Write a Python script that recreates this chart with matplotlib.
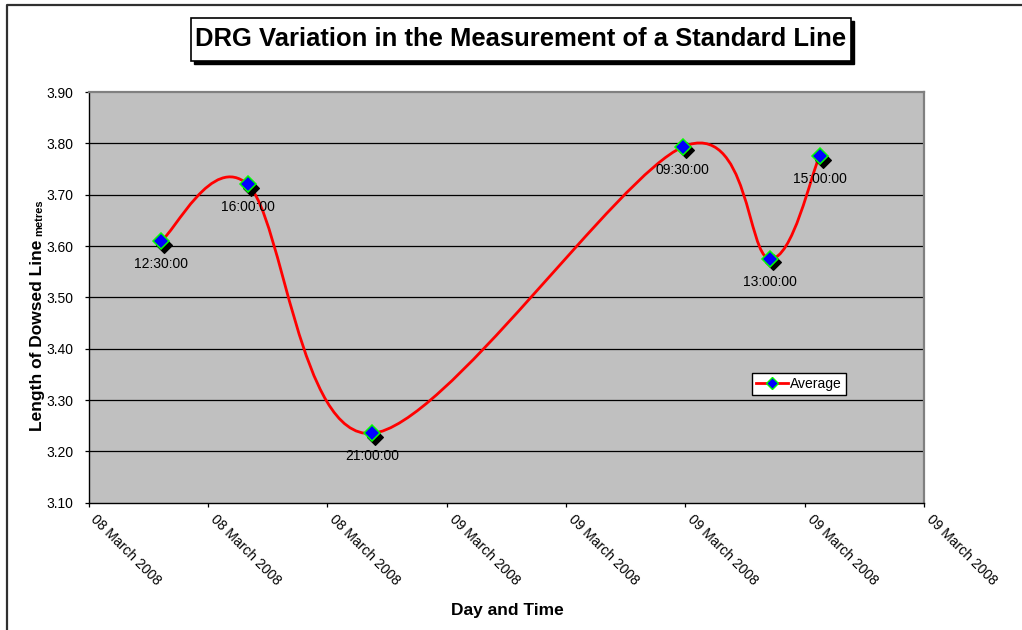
import numpy as np
import matplotlib
matplotlib.use("Agg")
import matplotlib.pyplot as plt
import matplotlib.dates as mdates
from matplotlib.path import Path
from matplotlib.patches import PathPatch, Rectangle
from matplotlib.lines import Line2D
from matplotlib.transforms import offset_copy, ScaledTranslation
from matplotlib import font_manager
from datetime import datetime, timedelta

# ------------------------------------------------------------
# Data
# ------------------------------------------------------------
times = [
    datetime(2008, 3, 8, 12, 30),
    datetime(2008, 3, 8, 16, 0),
    datetime(2008, 3, 8, 21, 0),
    datetime(2008, 3, 9, 9, 30),
    datetime(2008, 3, 9, 13, 0),
    datetime(2008, 3, 9, 15, 0),
]
lengths = [3.609, 3.720, 3.235, 3.793, 3.575, 3.775]
point_labels = ["12:30:00", "16:00:00", "21:00:00", "09:30:00", "13:00:00", "15:00:00"]

x_start = datetime(2008, 3, 8, 9, 36)
x_step = timedelta(hours=4.8)
n_steps = 7
y_ticks = [3.10, 3.20, 3.30, 3.40, 3.50, 3.60, 3.70, 3.80, 3.90]

TITLE = "DRG Variation in the Measurement of a Standard Line"

plt.rcParams["font.family"] = ["Liberation Sans", "DejaVu Sans"]


def has_font(name):
    try:
        font_manager.findfont(name, fallback_to_default=False)
        return True
    except Exception:
        return False


def smooth_path(x, y):
    """Excel-style smoothed line: Catmull-Rom as cubic Bezier segments."""
    pts = np.column_stack([x, y])
    n = len(pts)
    verts = [pts[0]]
    codes = [Path.MOVETO]
    for i in range(n - 1):
        p0 = pts[max(i - 1, 0)]
        p1 = pts[i]
        p2 = pts[i + 1]
        p3 = pts[min(i + 2, n - 1)]
        verts += [p1 + (p2 - p0) / 6, p2 - (p3 - p1) / 6, p2]
        codes += [Path.CURVE4] * 3
    return Path(verts, codes)


W, H = 1022, 630
fig = plt.figure(figsize=(W / 100, H / 100), dpi=100)

# outer chart frame (cut at right/bottom like the screenshot)
fig.add_artist(Line2D([7 / W, 7 / W, 1.0], [0.0, 1 - 5 / H, 1 - 5 / H],
                      transform=fig.transFigure, color="#303030", lw=1.6))

ax = fig.add_axes([88.5 / W, 1 - 502.7 / H, (924 - 88.5) / W, (502.7 - 92) / H])
ax.set_facecolor("#C0C0C0")

xnum = mdates.date2num(times)
x0 = mdates.date2num(x_start)
x1 = mdates.date2num(x_start + n_steps * x_step)
ax.set_xlim(x0, x1)
ax.set_ylim(3.10, 3.90)

# grid
ax.set_yticks(y_ticks)
ax.set_yticklabels([f"{v:.2f}" for v in y_ticks])
for v in y_ticks[1:-1]:
    ax.axhline(v, color="black", lw=0.9, zorder=1)

tick_dates = [x_start + k * x_step for k in range(n_steps + 1)]
ax.set_xticks(mdates.date2num(tick_dates))
ax.set_xticklabels([d.strftime("%d %B %Y") for d in tick_dates],
                   rotation=-45, ha="left", va="top", rotation_mode="anchor")

ax.tick_params(axis="both", direction="out", length=3, width=0.9,
               color="black", labelsize=10)
ax.tick_params(axis="y", pad=8)
ax.tick_params(axis="x", pad=4)
shift = ScaledTranslation(7 / 72, 0, fig.dpi_scale_trans)
for lab in ax.get_xticklabels():
    lab.set_transform(lab.get_transform() + shift)

for side in ["left", "bottom"]:
    ax.spines[side].set_color("black")
    ax.spines[side].set_linewidth(1.0)
for side in ["top", "right"]:
    ax.spines[side].set_color("#808080")
    ax.spines[side].set_linewidth(1.6)

# smoothed line
ax.add_patch(PathPatch(smooth_path(xnum, lengths), facecolor="none",
                       edgecolor="red", lw=2.0, zorder=3, capstyle="round"))

# marker shadows + markers
shadow = offset_copy(ax.transData, fig=fig, x=2.4, y=-2.4, units="points")
ax.plot(xnum, lengths, ls="none", marker="D", ms=8.6, mfc="black", mec="black",
        mew=0.8, transform=shadow, zorder=4)
ax.plot(xnum, lengths, ls="none", marker="D", ms=8.6, mfc="#0000FF", mec="#00FF00",
        mew=1.1, zorder=5)

for xv, yv, lab in zip(xnum, lengths, point_labels):
    ax.annotate(lab, (xv, yv), xytext=(0, -16.5), textcoords="offset points",
                ha="center", va="center", fontsize=10, zorder=6)

# legend
handle = Line2D([], [], color="red", lw=2.0, marker="D", ms=6.5, mfc="#0000FF",
                mec="#00FF00", mew=1.0)
leg = fig.legend([handle], ["Average"], loc="upper left",
                 bbox_to_anchor=(752 / W, 1 - 373 / H), fontsize=10,
                 frameon=True, fancybox=False, framealpha=1, edgecolor="black",
                 borderpad=0.3, handlelength=2.3, handletextpad=0.15,
                 borderaxespad=0)
leg.get_frame().set_linewidth(1.0)

# title box with shadow
bx0, bx1, by0, by1 = 191, 851, 18, 61
fig.add_artist(Rectangle(((bx0 + 3) / W, 1 - (by1 + 3) / H), (bx1 - bx0) / W,
                         (by1 - by0) / H, transform=fig.transFigure,
                         facecolor="black", edgecolor="black", lw=1))
fig.add_artist(Rectangle((bx0 / W, 1 - by1 / H), (bx1 - bx0) / W, (by1 - by0) / H,
                         transform=fig.transFigure, facecolor="white",
                         edgecolor="black", lw=1.2))
title_family = ["Liberation Sans Narrow", "Liberation Sans"] if has_font("Liberation Sans Narrow") \
    else ["Liberation Sans"]
title = fig.text((bx0 + bx1) / 2 / W, 1 - (by0 + by1) / 2 / H, TITLE,
                 ha="center", va="center", fontsize=20, fontweight="bold",
                 family=title_family)

# axis titles
fig.text(507 / W, 1 - 611 / H, "Day and Time", ha="center", va="center",
         fontsize=12.5, fontweight="bold")
ylab = fig.text(42 / W, 1 - 431 / H, "Length of Dowsed Line", rotation=90,
                rotation_mode="anchor", ha="left", va="baseline",
                fontsize=12.5, fontweight="bold")

fig.canvas.draw()
r = fig.canvas.get_renderer()
# fit title width to reference (~650 px)
tw = title.get_window_extent(r).width
title.set_fontsize(20 * 652 / tw)
yb = ylab.get_window_extent(r)
fig.text(42 / W, (yb.y1 + 4) / H, "metres", rotation=90, rotation_mode="anchor",
         ha="left", va="baseline", fontsize=8, fontweight="bold")

fig.savefig("out.png", dpi=100)
